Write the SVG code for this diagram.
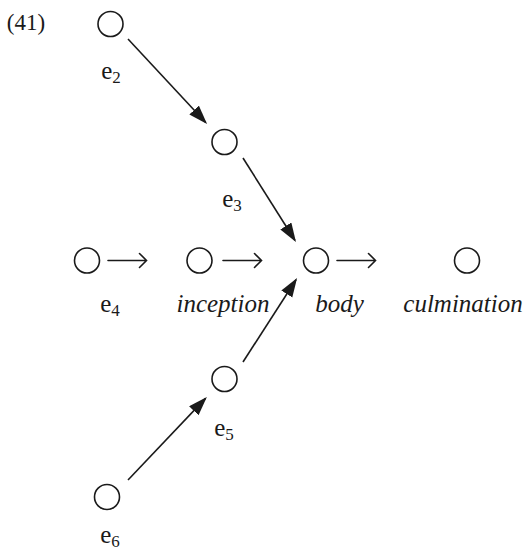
<svg xmlns="http://www.w3.org/2000/svg" width="529" height="550" viewBox="0 0 529 550">
<style>
.node circle{fill:none;stroke:#1a1a1a;stroke-width:1.6}
.lbl{font-family:"Liberation Serif","DejaVu Serif",serif;font-size:25px;fill:#1a1a1a;text-anchor:middle}
.it{font-style:italic;font-size:25px}
.sub{font-size:17px}
.edge{stroke:#1a1a1a;stroke-width:1.6;fill:none}
.open{stroke:#1a1a1a;stroke-width:1.6;fill:none;stroke-linecap:round;stroke-linejoin:miter}
</style>
<defs>
<marker id="ah" markerUnits="userSpaceOnUse" markerWidth="22" markerHeight="14" refX="17" refY="6.5" orient="auto">
<path d="M0,0 L19,6.5 L0,13 z" fill="#1a1a1a"/>
</marker>
</defs>
<text class="lbl" x="26" y="30" style="font-size:23px">(41)</text>
<g id="e2" class="node"><circle cx="110.5" cy="24" r="12.5"/><text class="lbl" x="111" y="79">e<tspan class="sub" dy="4">2</tspan></text></g>
<g id="e3" class="node"><circle cx="224.5" cy="142" r="12.5"/><text class="lbl" x="232" y="207">e<tspan class="sub" dy="4">3</tspan></text></g>
<g id="e4" class="node"><circle cx="87" cy="260.5" r="12.5"/><text class="lbl" x="110" y="312">e<tspan class="sub" dy="4">4</tspan></text></g>
<g id="inception" class="node"><circle cx="199.5" cy="260.5" r="12.5"/><text class="lbl it" x="223" y="312">inception</text></g>
<g id="body" class="node"><circle cx="316" cy="260.5" r="12.5"/><text class="lbl it" x="339.5" y="312">body</text></g>
<g id="culmination" class="node"><circle cx="467" cy="260.5" r="12.5"/><text class="lbl it" x="463" y="312">culmination</text></g>
<g id="e5" class="node"><circle cx="224.5" cy="379" r="12.5"/><text class="lbl" x="224" y="436">e<tspan class="sub" dy="4">5</tspan></text></g>
<g id="e6" class="node"><circle cx="107" cy="497" r="12.5"/><text class="lbl" x="110" y="543">e<tspan class="sub" dy="4">6</tspan></text></g>
<g id="connectors">
<line class="edge" x1="128" y1="39" x2="205.7" y2="122.5" marker-end="url(#ah)"/>
<line class="edge" x1="243" y1="158" x2="294.9" y2="240.3" marker-end="url(#ah)"/>
<line class="edge" x1="128" y1="480" x2="205.5" y2="398.4" marker-end="url(#ah)"/>
<line class="edge" x1="243" y1="362" x2="296" y2="279.7" marker-end="url(#ah)"/>
<path class="open" d="M108,260.5 H146.5 M139.5,253.5 L146.5,260.5 L139.5,267.5"/>
<path class="open" d="M223,260.5 H261.5 M254.5,253.5 L261.5,260.5 L254.5,267.5"/>
<path class="open" d="M337,260.5 H375.5 M368.5,253.5 L375.5,260.5 L368.5,267.5"/>
</g>
</svg>
